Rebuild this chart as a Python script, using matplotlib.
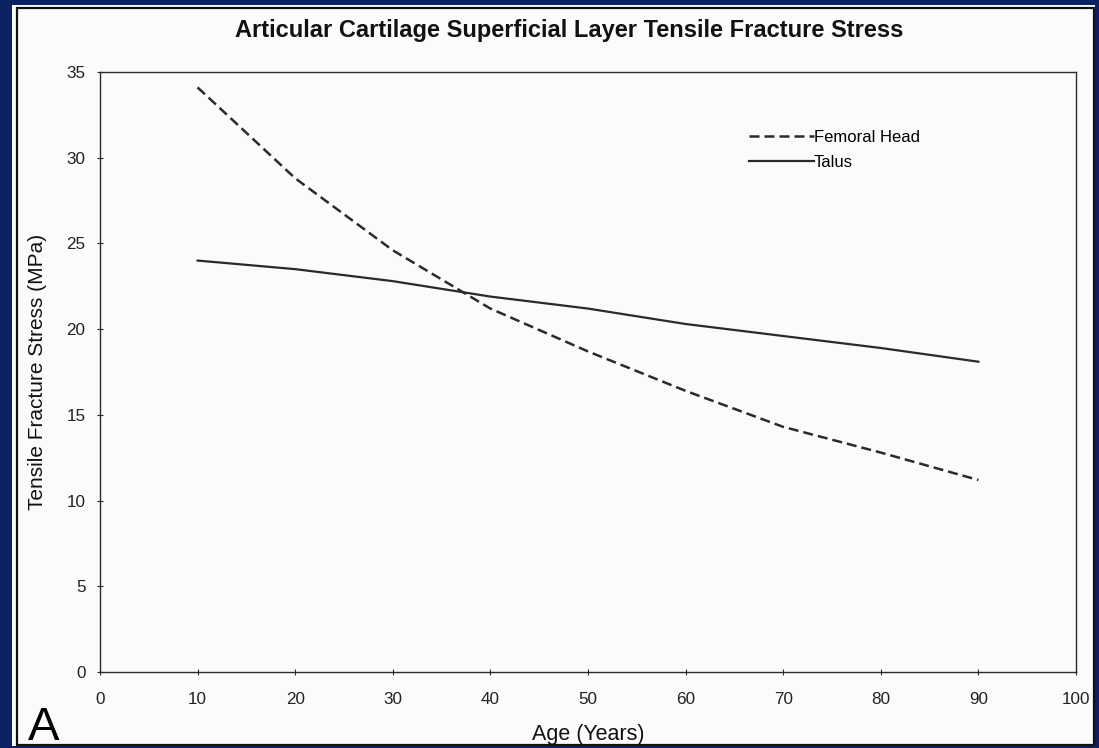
import matplotlib
matplotlib.use("Agg")
import matplotlib.pyplot as plt
from matplotlib.patches import Rectangle

# values
age = [10, 20, 30, 40, 50, 60, 70, 80, 90]
femoral_head = [34.1, 28.8, 24.6, 21.2, 18.7, 16.4, 14.3, 12.8, 11.2]
talus = [24.0, 23.5, 22.8, 21.9, 21.2, 20.3, 19.6, 18.9, 18.1]

x_ticks = [0, 10, 20, 30, 40, 50, 60, 70, 80, 90, 100]
y_ticks = [0, 5, 10, 15, 20, 25, 30, 35]

plt.rcParams["font.family"] = ["Liberation Sans", "DejaVu Sans"]

W, H = 1099, 748
fig = plt.figure(figsize=(W / 100, H / 100), dpi=100, facecolor="#0b2262")

# white page with black frame, kept behind the axes
page = Rectangle((12 / W, 2 / H), (1095 - 12) / W, (743 - 2) / H,
                 transform=fig.transFigure, facecolor="#fbfbfb",
                 edgecolor="none", zorder=-2)
frame = Rectangle((17 / W, 3 / H), (1094 - 17) / W, (740 - 3) / H,
                  transform=fig.transFigure, facecolor="none",
                  edgecolor="#111111", linewidth=1.6, zorder=-1)
fig.patches.extend([page, frame])

ax = fig.add_axes([100 / W, 76 / H, 976 / W, 600 / H])
ax.set_facecolor("none")
ax.set_zorder(2)

ink = "#2a2a2a"
ax.plot(age, femoral_head, color=ink, lw=1.8, dashes=(4, 2),
        label="Femoral Head")
ax.plot(age, talus, color=ink, lw=1.6, label="Talus")

ax.set_xlim(0, 100)
ax.set_ylim(0, 35)
ax.set_xticks(x_ticks)
ax.set_yticks(y_ticks)
ax.tick_params(direction="inout", length=5, width=0.8, colors=ink,
               labelsize=12.3, labelcolor="#222222")
ax.tick_params(axis="x", pad=12)
ax.tick_params(axis="y", pad=8)
for s in ax.spines.values():
    s.set_color(ink)
    s.set_linewidth(1.0)

ax.set_xlabel("Age (Years)", fontsize=15.5, color="#111111", labelpad=12)
ax.set_ylabel("Tensile Fracture Stress (MPa)", fontsize=15,
              color="#111111", labelpad=14)

leg = ax.legend(loc="upper left", bbox_to_anchor=(0.656, 0.917),
                frameon=False, fontsize=12, handlelength=3.9,
                handletextpad=0.0, labelspacing=0.6, borderpad=0)

fig.text(569 / W, 1 - 31 / H,
         "Articular Cartilage Superficial Layer Tensile Fracture Stress",
         ha="center", va="center", fontsize=17, fontweight="bold",
         color="#111111")
fig.text(28 / W, 1 - 740 / H, "A", ha="left", va="baseline",
         fontsize=34, color="#000000")

fig.savefig("out.png", dpi=100, facecolor=fig.get_facecolor())
